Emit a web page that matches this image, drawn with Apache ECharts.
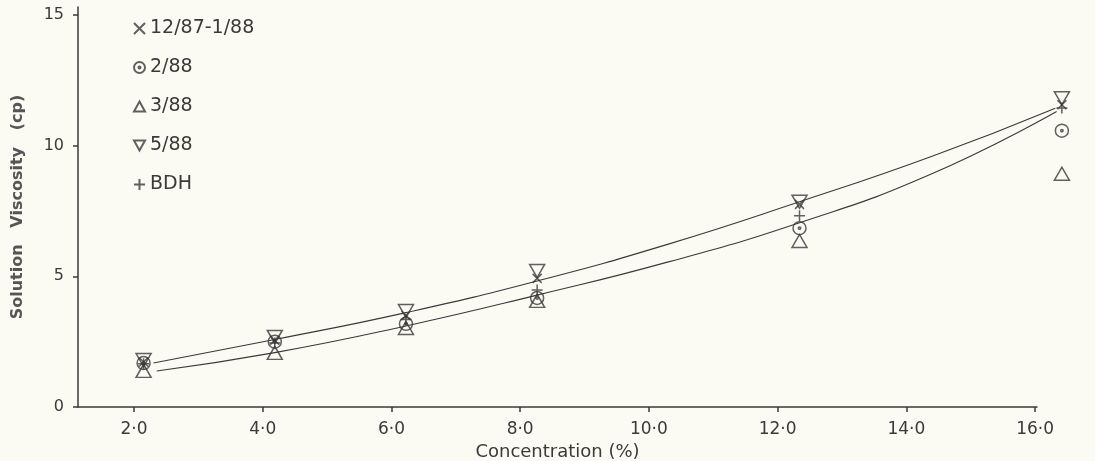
<!DOCTYPE html>
<html>
<head>
<meta charset="utf-8">
<script src="https://cdn.jsdelivr.net/npm/echarts@6/dist/echarts.min.js"></script>
<style>
  html, body { margin: 0; padding: 0; background: #fbfaf3; }
  #chart { width: 1095px; height: 461px; }
</style>
</head>
<body>
<div id="chart"></div>
<script>
// 浓度 (%)
var concentration = [2, 4, 6, 8, 12, 16];
// 各批次粘度 (cp)
var lot1287 = [1.72, 2.55, 3.50, 4.92, 7.75, 11.56];
var lot0288 = [1.68, 2.50, 3.18, 4.17, 6.84, 10.57];
var lot0388 = [1.38, 2.07, 3.02, 4.06, 6.35, 8.92];
var lot0588 = [1.80, 2.68, 3.67, 5.20, 7.85, 11.81];
var lotBDH  = [1.65, 2.45, 3.35, 4.48, 7.32, 11.44];
// 两条拟合曲线
var upperX = [2.15, 4, 6, 8, 10, 12, 14, 15.9];
var upperY = [1.68, 2.58, 3.61, 4.82, 6.23, 7.85, 9.57, 11.43];
var lowerX = [2.2, 4, 6, 8, 10, 12, 14, 15.92];
var lowerY = [1.38, 2.08, 3.10, 4.28, 5.55, 7.05, 8.90, 11.30];
// 刻度
var xTicks = [2, 4, 6, 8, 10, 12, 14, 16];
var yTicks = [0, 5, 10, 15];

var ink = '#3a3a3a';
var clear = 'rgba(0,0,0,0)';
var font = 'DejaVu Sans';

var symCross = 'path://M0,0L10,10M10,0L0,10';
var symDot = 'path://M10,5A5,5,0,1,1,0,5A5,5,0,1,1,10,5ZM5.9,5A0.9,0.9,0,1,1,4.1,5A0.9,0.9,0,1,1,5.9,5Z';
var symUp = 'path://M5,0L10,9L0,9Z';
var symDown = 'path://M0,0L10,0L5,9Z';
var symPlus = 'path://M5,0L5,10M0,5L10,5';

function pairs(xs, ys) {
    var out = [];
    for (var i = 0; i < xs.length; i++) {
        out.push([xs[i], ys[i]]);
    }
    return out;
}

function pointSeries(name, ys, symbol, size) {
    return {
        name: name,
        type: 'scatter',
        xAxisIndex: 1,
        yAxisIndex: 1,
        clip: false,
        symbol: symbol,
        symbolSize: size,
        data: pairs(concentration, ys),
        itemStyle: { color: clear, borderColor: ink, borderWidth: 1.5 },
        z: 3
    };
}

function curveSeries(xs, ys) {
    return {
        type: 'line',
        xAxisIndex: 1,
        yAxisIndex: 1,
        smooth: true,
        clip: false,
        showSymbol: false,
        silent: true,
        data: pairs(xs, ys),
        lineStyle: { color: ink, width: 1.1 },
        z: 2
    };
}

var chart = echarts.init(document.getElementById('chart'));

var option = {
    backgroundColor: '#fbfaf3',
    animation: false,
    textStyle: { fontFamily: font, color: ink },
    legend: {
        orient: 'vertical',
        left: 128,
        top: 14,
        itemWidth: 11,
        itemHeight: 11,
        itemGap: 20,
        textStyle: { fontSize: 19, color: ink, fontFamily: font },
        data: [
            { name: '12/87-1/88', icon: symCross },
            { name: '2/88', icon: symDot },
            { name: '3/88', icon: symUp },
            { name: '5/88', icon: symDown },
            { name: 'BDH', icon: symPlus }
        ]
    },
    grid: [
        // 坐标轴
        { left: 78, right: 58, top: 7, bottom: 54, outerBoundsMode: 'none', containLabel: false },
        // 数据 (画得比坐标轴宽一点, 16.0 的点在轴端之外)
        { left: 78, right: 20, top: 7, bottom: 54, outerBoundsMode: 'none', containLabel: false }
    ],
    xAxis: [
        {
            // 显示用的刻度轴
            type: 'value',
            gridIndex: 0,
            min: 1.13,
            max: 16.03,
            name: 'Concentration (%)',
            nameLocation: 'middle',
            nameGap: 33,
            nameTextStyle: { fontSize: 18, color: ink },
            axisLine: { show: true, lineStyle: { color: ink, width: 1.5 } },
            axisTick: { show: true, length: 5, customValues: xTicks, lineStyle: { color: ink, width: 1.5 } },
            axisLabel: {
                customValues: xTicks,
                fontSize: 17,
                color: ink,
                margin: 14,
                formatter: function (v) { return v.toFixed(1).replace('.', '·'); }
            },
            splitLine: { show: false }
        },
        {
            // 数据用的轴
            type: 'value',
            gridIndex: 1,
            min: 1.0,
            max: 16.2,
            show: false,
            splitLine: { show: false }
        }
    ],
    yAxis: [
        {
            type: 'value',
            gridIndex: 0,
            min: 0,
            max: 15.3,
            name: 'Solution   Viscosity   (cp)',
            nameLocation: 'middle',
            nameGap: 52,
            nameTextStyle: { fontSize: 16, fontWeight: 'bold', color: '#555' },
            axisLine: { show: true, lineStyle: { color: ink, width: 1.5 } },
            axisTick: { show: true, length: 5, customValues: yTicks, lineStyle: { color: ink, width: 1.5 } },
            axisLabel: { customValues: yTicks, fontSize: 16, color: ink, margin: 14 },
            splitLine: { show: false }
        },
        {
            type: 'value',
            gridIndex: 1,
            min: 0,
            max: 15.3,
            show: false,
            splitLine: { show: false }
        }
    ],
    series: [
        curveSeries(upperX, upperY),
        curveSeries(lowerX, lowerY),
        pointSeries('12/87-1/88', lot1287, symCross, 9),
        pointSeries('2/88', lot0288, symDot, 13),
        pointSeries('3/88', lot0388, symUp, [15, 13]),
        pointSeries('5/88', lot0588, symDown, [15, 13]),
        pointSeries('BDH', lotBDH, symPlus, 11)
    ]
};

chart.setOption(option);

window.onresize = function () {
    chart.resize();
};
</script>
</body>
</html>
